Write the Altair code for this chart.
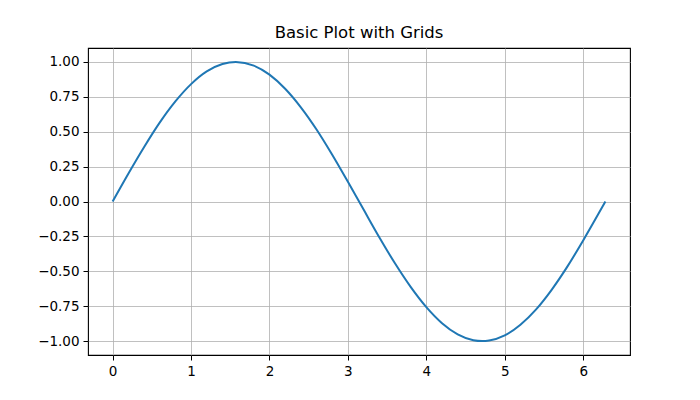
import altair as alt
import pandas as pd

x_vals = [0.0, 0.2, 0.4, 0.6, 0.8, 1.0, 1.2, 1.4, 1.571, 1.8, 2.0, 2.2, 2.4, 2.6, 2.8, 3.0,
          3.2, 3.4, 3.6, 3.8, 4.0, 4.2, 4.4, 4.6, 4.712, 4.8, 5.0, 5.2, 5.4, 5.6, 5.8, 6.0, 6.2, 6.283]
y_vals = [0.0, 0.199, 0.389, 0.565, 0.717, 0.841, 0.932, 0.985, 1.0, 0.974, 0.909, 0.808, 0.675,
          0.516, 0.335, 0.141, -0.058, -0.256, -0.443, -0.612, -0.757, -0.872, -0.952, -0.994,
          -1.0, -0.996, -0.959, -0.883, -0.773, -0.631, -0.465, -0.279, -0.083, 0.0]
x_ticks = [0, 1, 2, 3, 4, 5, 6]
y_ticks = [-1.0, -0.75, -0.5, -0.25, 0.0, 0.25, 0.5, 0.75, 1.0]

df = pd.DataFrame({"x": x_vals, "y": y_vals})

axis_common = dict(
    grid=True, gridColor="#b0b0b0", gridWidth=0.8, domain=False,
    tickColor="black", tickSize=5, tickWidth=1, labelPadding=4,
    labelFont="DejaVu Sans", labelFontSize=13.5, labelColor="black", title=None,
)

chart = alt.Chart(df).mark_line(color="#1f77b4", strokeWidth=2, interpolate="monotone").encode(
    x=alt.X("x:Q", scale=alt.Scale(domain=[-0.314, 6.597], nice=False, zero=False),
            axis=alt.Axis(values=x_ticks, format="d", **axis_common)),
    y=alt.Y("y:Q", scale=alt.Scale(domain=[-1.1, 1.1], nice=False, zero=False),
            axis=alt.Axis(values=y_ticks, format=".2f", **axis_common)),
).properties(
    width=542, height=307,
    title=alt.TitleParams("Basic Plot with Grids", font="DejaVu Sans", fontSize=16.5,
                          fontWeight="normal", color="black", offset=7, anchor="middle"),
    autosize=alt.AutoSizeParams(type="none"),
    padding={"left": 80, "top": 40, "right": 62, "bottom": 37},
).configure_view(stroke="black", strokeWidth=1.1)

chart.save("out.html", embed_options={"renderer": "svg", "actions": False})
